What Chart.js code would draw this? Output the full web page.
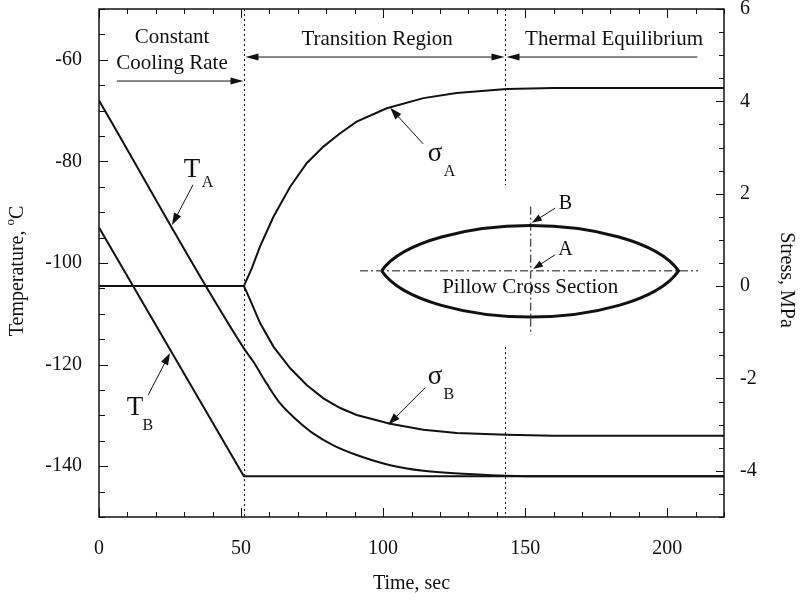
<!DOCTYPE html>
<html>
<head>
<meta charset="utf-8">
<script src="https://cdn.jsdelivr.net/npm/chart.js@4.4.1/dist/chart.umd.min.js"></script>
<style>
  html, body { margin: 0; padding: 0; background: #fff; }
  #wrap { width: 800px; height: 604px; }
</style>
</head>
<body>
<div id="wrap"><canvas id="chart" width="800" height="604"></canvas></div>
<script>
// values (time in s, temperature in C, stress in MPa)
const tempATime = [0, 51, 54.3, 59, 63.7, 69.6, 75.5, 82.5, 90.7, 102.5, 114.2, 131.8, 143.5, 160, 220];
const tempAValues = [-68, -116.8, -119.4, -123.7, -127.6, -130.9, -133.6, -135.9, -137.8, -139.8, -140.9, -141.6, -141.9, -142, -142];
const tempBTime = [0, 51, 220];
const tempBValues = [-93, -142, -142];
const stressATime = [0, 51, 53.8, 56.7, 61.4, 67.3, 73.1, 79.0, 84.9, 90.7, 101.3, 114.2, 125.9, 143.5, 160, 220];
const stressAValues = [0, 0, 0.39, 0.86, 1.50, 2.15, 2.66, 3.02, 3.31, 3.56, 3.85, 4.07, 4.18, 4.27, 4.29, 4.29];
const stressBTime = [0, 51, 53.2, 56.7, 61.4, 67.3, 73.1, 79.0, 84.9, 90.7, 102.5, 114.2, 125.9, 143.5, 160, 220];
const stressBValues = [0, 0, -0.30, -0.80, -1.31, -1.78, -2.14, -2.43, -2.64, -2.79, -2.98, -3.11, -3.18, -3.22, -3.24, -3.24];

const timeTicks = [0, 50, 100, 150, 200];
const tempTicks = [-60, -80, -100, -120, -140];
const stressTicks = [6, 4, 2, 0, -2, -4];
const regionBounds = [51, 143];

const FONT = 'Liberation Serif, Times New Roman, serif';
const INK = '#111';

function pts(xs, ys) {
  return xs.map((x, i) => ({ x: x, y: ys[i] }));
}

function arrow(ctx, x1, y1, x2, y2, head, half) {
  const a = Math.atan2(y2 - y1, x2 - x1);
  const c = Math.cos(a), s = Math.sin(a);
  ctx.beginPath();
  ctx.moveTo(x1, y1);
  ctx.lineTo(x2 - c * head * 0.8, y2 - s * head * 0.8);
  ctx.stroke();
  ctx.beginPath();
  ctx.moveTo(x2, y2);
  ctx.lineTo(x2 - head * c + half * s, y2 - head * s - half * c);
  ctx.lineTo(x2 - head * c - half * s, y2 - head * s + half * c);
  ctx.closePath();
  ctx.fill();
}

function text(ctx, str, x, y, size) {
  ctx.font = size + 'px ' + FONT;
  ctx.fillText(str, x, y);
}

// frame, inward ticks, axis titles, region markers, labels and the pillow sketch
const decor = {
  id: 'decor',
  afterDatasetsDraw(chart) {
    const ctx = chart.ctx;
    const a = chart.chartArea;
    const sx = chart.scales.x, sy = chart.scales.y, s1 = chart.scales.y1;
    const X = v => sx.getPixelForValue(v);
    const T = v => sy.getPixelForValue(v);
    const S = v => s1.getPixelForValue(v);

    ctx.save();
    ctx.strokeStyle = INK;
    ctx.fillStyle = INK;

    // frame
    ctx.lineWidth = 1.5;
    ctx.strokeRect(a.left, a.top, a.right - a.left, a.bottom - a.top);

    // ticks
    ctx.lineWidth = 1;
    ctx.beginPath();
    for (let t = 0; t <= 220; t += 10) {
      const len = t % 50 === 0 ? 9 : 5;
      const p = Math.round(X(t)) + 0.5;
      ctx.moveTo(p, a.bottom); ctx.lineTo(p, a.bottom - len);
      ctx.moveTo(p, a.top); ctx.lineTo(p, a.top + len);
    }
    for (let v = -150; v <= -50; v += 5) {
      const len = v % 20 === 0 ? 9 : 6;
      const p = Math.round(T(v)) + 0.5;
      ctx.moveTo(a.left, p); ctx.lineTo(a.left + len, p);
    }
    for (let v = -5; v <= 6; v += 0.5) {
      const len = v % 2 === 0 ? 8 : 5;
      const p = Math.round(S(v)) + 0.5;
      ctx.moveTo(a.right, p); ctx.lineTo(a.right - len, p);
    }
    ctx.stroke();

    // axis titles
    ctx.textBaseline = 'middle';
    ctx.textAlign = 'left';
    ctx.save();
    ctx.translate(18, 271);
    ctx.rotate(-Math.PI / 2);
    ctx.font = '20px ' + FONT;
    const w1 = ctx.measureText('Temperature, ').width;
    ctx.font = '13px ' + FONT;
    const w2 = ctx.measureText('o').width;
    ctx.font = '20px ' + FONT;
    const w3 = ctx.measureText('C').width;
    let x0 = -(w1 + w2 + w3) / 2;
    text(ctx, 'Temperature, ', x0, 0, 20);
    text(ctx, 'o', x0 + w1, -7, 13);
    text(ctx, 'C', x0 + w1 + w2, 0, 20);
    ctx.restore();

    ctx.save();
    ctx.translate(786, 280);
    ctx.rotate(Math.PI / 2);
    ctx.textAlign = 'center';
    text(ctx, 'Stress, MPa', 0, 0, 20);
    ctx.restore();

    // region boundaries (dotted)
    ctx.setLineDash([2, 3]);
    ctx.lineWidth = 1;
    ctx.beginPath();
    const b0 = Math.round(X(regionBounds[0])) + 0.5;
    const b1 = Math.round(X(regionBounds[1])) + 0.5;
    ctx.moveTo(b0, a.top); ctx.lineTo(b0, a.bottom);
    ctx.moveTo(b1, a.top); ctx.lineTo(b1, S(2.19));
    ctx.moveTo(b1, S(-1.32)); ctx.lineTo(b1, a.bottom);
    ctx.stroke();
    ctx.setLineDash([]);

    // region arrows
    ctx.lineWidth = 1;
    const yc = S(4.44), yr = S(4.96);
    arrow(ctx, X(6.3), yc, b0 - 1, yc, 13, 3.5);
    arrow(ctx, (b0 + b1) / 2, yr, b0 + 1, yr, 13, 3.5);
    arrow(ctx, (b0 + b1) / 2, yr, b1 - 1, yr, 13, 3.5);
    arrow(ctx, X(210.6), yr, b1 + 1, yr, 13, 3.5);

    ctx.textAlign = 'center';
    ctx.textBaseline = 'middle';
    text(ctx, 'Constant', X(25.7), S(5.39), 21);
    text(ctx, 'Cooling Rate', X(25.7), S(4.83), 21);
    text(ctx, 'Transition Region', X(97.9), S(5.33), 21);
    text(ctx, 'Thermal Equilibrium', X(181.3), S(5.33), 21);

    // curve labels
    text(ctx, 'T', X(32.7), T(-81.7), 27);
    text(ctx, 'A', X(38.2), T(-84.3), 16);
    arrow(ctx, X(33.1), T(-84.6), X(25.7), T(-92.5), 12, 4);
    text(ctx, 'T', X(12.7), T(-128.6), 27);
    text(ctx, 'B', X(17.2), T(-132.1), 16);
    arrow(ctx, X(17.3), T(-126), X(25), T(-117.7), 12, 4);
    text(ctx, '\u03c3', X(118.3), S(2.86), 27);
    text(ctx, 'A', X(123.4), S(2.47), 16);
    arrow(ctx, X(114.1), S(3.08), X(102.5), S(3.86), 12, 4);
    text(ctx, '\u03c3', X(118.3), S(-1.97), 27);
    text(ctx, 'B', X(123.1), S(-2.35), 16);
    arrow(ctx, X(114.8), S(-2.2), X(101.8), S(-3.0), 12, 4);

    // pillow cross section
    const L = { x: X(99.5), y: S(0.33) };
    const R = { x: X(204), y: S(0.33) };
    const cx = X(151.8);
    const top = S(1.31), bot = S(-0.67);
    const w = cx - L.x;
    ctx.lineWidth = 3;
    ctx.beginPath();
    ctx.moveTo(L.x, L.y);
    ctx.bezierCurveTo(L.x + 0.14 * w, L.y - 0.66 * (L.y - top), cx - 0.4 * w, top, cx, top);
    ctx.bezierCurveTo(cx + 0.4 * w, top, R.x - 0.14 * w, R.y - 0.66 * (R.y - top), R.x, R.y);
    ctx.bezierCurveTo(R.x - 0.14 * w, R.y + 0.66 * (bot - R.y), cx + 0.4 * w, bot, cx, bot);
    ctx.bezierCurveTo(cx - 0.4 * w, bot, L.x + 0.14 * w, L.y + 0.66 * (bot - L.y), L.x, L.y);
    ctx.stroke();

    ctx.lineWidth = 1;
    ctx.setLineDash([8, 3, 2, 3]);
    ctx.beginPath();
    ctx.moveTo(X(91.9), L.y); ctx.lineTo(X(210.9), L.y);
    ctx.moveTo(cx + 0.5, S(1.72)); ctx.lineTo(cx + 0.5, S(-1.06));
    ctx.stroke();
    ctx.setLineDash([]);

    text(ctx, 'Pillow Cross Section', cx, S(-0.02), 21);
    text(ctx, 'B', X(164.2), S(1.78), 20);
    arrow(ctx, X(160.6), S(1.69), X(152.4), S(1.37), 10, 3.5);
    text(ctx, 'A', X(164.2), S(0.78), 20);
    arrow(ctx, X(160.6), S(0.68), X(152.8), S(0.37), 10, 3.5);

    ctx.restore();
  }
};

// drop the label overhang padding so the plot box sits where the original does
function noPad(s) {
  s.paddingTop = 0; s.paddingBottom = 0; s.paddingLeft = 0; s.paddingRight = 0;
}

const tickFont = { family: FONT, size: 20 };
const lineStyle = { borderColor: INK, borderWidth: 2, pointRadius: 0, tension: 0, fill: false };

new Chart(document.getElementById('chart'), {
  type: 'line',
  data: {
    datasets: [
      Object.assign({ label: 'T_A', data: pts(tempATime, tempAValues), yAxisID: 'y', cubicInterpolationMode: 'monotone' }, lineStyle),
      Object.assign({ label: 'T_B', data: pts(tempBTime, tempBValues), yAxisID: 'y' }, lineStyle),
      Object.assign({ label: 'sigma_A', data: pts(stressATime, stressAValues), yAxisID: 'y1' }, lineStyle),
      Object.assign({ label: 'sigma_B', data: pts(stressBTime, stressBValues), yAxisID: 'y1' }, lineStyle)
    ]
  },
  options: {
    responsive: false,
    animation: false,
    layout: { padding: { top: 9, left: 0, right: 0, bottom: 0 } },
    plugins: { legend: { display: false }, tooltip: { enabled: false } },
    scales: {
      x: {
        type: 'linear', min: 0, max: 220,
        afterBuildTicks: s => { s.ticks = timeTicks.map(v => ({ value: v })); },
        afterFit: s => { s.height = 87; noPad(s); },
        grid: { display: false, drawTicks: false },
        border: { display: false },
        ticks: { autoSkip: false, maxRotation: 0, padding: 20, color: INK, font: tickFont },
        title: { display: true, text: 'Time, sec', color: INK, font: tickFont, padding: { top: 0, bottom: 8 } }
      },
      y: {
        position: 'left', min: -150, max: -50,
        afterBuildTicks: s => { s.ticks = tempTicks.map(v => ({ value: v })); },
        afterFit: s => { s.width = 99; noPad(s); },
        grid: { display: false, drawTicks: false },
        border: { display: false },
        ticks: { autoSkip: false, padding: 17, color: INK, font: tickFont }
      },
      y1: {
        position: 'right', min: -5, max: 6,
        afterBuildTicks: s => { s.ticks = stressTicks.map(v => ({ value: v })); },
        afterFit: s => { s.width = 76; noPad(s); },
        grid: { display: false, drawTicks: false },
        border: { display: false },
        ticks: { autoSkip: false, padding: 16, color: INK, font: tickFont }
      }
    }
  },
  plugins: [decor]
});
</script>
</body>
</html>
